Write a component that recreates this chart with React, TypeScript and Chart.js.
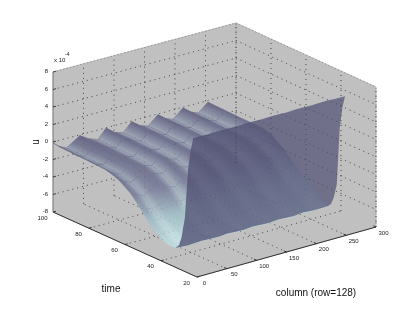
import React, { useEffect, useRef } from "react";
import { Chart, registerables } from "chart.js";

Chart.register(...registerables);

const columnTicks = [0, 50, 100, 150, 200, 250, 300];
const timeTicks = [100, 80, 60, 40, 20];
const uTicks = [8, 6, 4, 2, 0, -2, -4, -6, -8];

const columns = [0, 10, 22, 33, 44, 59, 74, 87, 101, 115, 129, 143, 156, 172, 185, 197, 213, 226, 238, 254];
const times = [100, 90, 80, 70, 64, 57, 52, 48, 43, 39, 36, 32, 30, 28.5, 26.7, 25, 23.5, 22];

const u100 = [-0.1, -0.7, -1.1, -0.6, -0.1, -0.75, -1.1, -0.05, -0.8, -1.1, -0.1, -0.8, -1.1, -0.1, -0.8, -1.1, -0.1, -0.8, -1.15, -0.2];
const u90 = [-0.2, -0.8, -1.15, -0.7, -0.2, -0.8, -1.15, -0.2, -0.85, -1.15, -0.2, -0.85, -1.15, -0.2, -0.85, -1.15, -0.2, -0.85, -1.15, -0.25];
const u80 = [-0.3, -0.85, -1.2, -0.75, -0.3, -0.9, -1.2, -0.3, -0.95, -1.2, -0.3, -0.95, -1.2, -0.3, -0.95, -1.2, -0.3, -0.95, -1.2, -0.3];
const u70 = [-0.5, -1.0, -1.35, -0.9, -0.5, -1.05, -1.35, -0.5, -1.1, -1.35, -0.5, -1.1, -1.35, -0.45, -1.05, -1.3, -0.4, -1.0, -1.25, -0.3];
const u64 = [-0.9, -1.4, -1.7, -1.3, -0.9, -1.4, -1.7, -0.9, -1.45, -1.7, -0.9, -1.45, -1.7, -0.85, -1.4, -1.65, -0.8, -1.3, -1.5, -0.6];
const u57 = [-1.85, -2.25, -2.55, -2.2, -1.85, -2.3, -2.55, -1.85, -2.35, -2.55, -1.8, -2.3, -2.5, -1.75, -2.25, -2.45, -1.7, -2.15, -2.3, -1.6];
const u52 = [-3, -3.35, -3.6, -3.3, -3, -3.4, -3.6, -3, -3.4, -3.6, -2.95, -3.35, -3.55, -2.9, -3.3, -3.5, -2.85, -3.2, -3.35, -2.6];
const u48 = [-4, -4.3, -4.5, -4.25, -4, -4.3, -4.5, -4, -4.35, -4.5, -3.95, -4.25, -4.4, -3.85, -4.2, -4.35, -3.75, -4.05, -4.2, -3.3];
const u43 = [-5, -5.2, -5.35, -5.2, -5, -5.2, -5.35, -5, -5.25, -5.35, -4.95, -5.2, -5.3, -4.85, -5.1, -5.2, -4.75, -4.95, -5.05, -4.2];
const u39 = [-5.55, -5.7, -5.8, -5.7, -5.55, -5.7, -5.8, -5.55, -5.7, -5.8, -5.5, -5.65, -5.75, -5.45, -5.6, -5.7, -5.35, -5.5, -5.55, -5.0];
const u36 = [-5.8, -5.85, -5.9, -5.85, -5.8, -5.85, -5.9, -5.8, -5.85, -5.9, -5.8, -5.85, -5.9, -5.75, -5.8, -5.85, -5.7, -5.75, -5.8, -5.55];
const u32 = [-5.8, -5.85, -5.9, -5.85, -5.8, -5.87, -5.9, -5.8, -5.87, -5.9, -5.8, -5.87, -5.9, -5.8, -5.87, -5.9, -5.8, -5.87, -5.9, -5.85];
const u30 = [-5.3, -5.4, -5.55, -5.4, -5.3, -5.45, -5.55, -5.3, -5.45, -5.55, -5.3, -5.45, -5.55, -5.3, -5.45, -5.55, -5.3, -5.45, -5.55, -5.4];
const u28 = [-4.2, -4.4, -4.6, -4.4, -4.2, -4.4, -4.6, -4.2, -4.4, -4.6, -4.2, -4.4, -4.6, -4.2, -4.4, -4.6, -4.3, -4.45, -4.6, -4.6];
const u27 = [-1.8, -2.1, -2.4, -2.1, -1.9, -2.2, -2.5, -2, -2.3, -2.5, -2.1, -2.4, -2.6, -2.2, -2.5, -2.7, -2.4, -2.6, -2.8, -2.9];
const u25 = [3.8, 3.5, 3.3, 3.5, 3.7, 3.5, 3.3, 3.7, 3.5, 3.3, 3.7, 3.5, 3.3, 3.7, 3.5, 3.3, 3.7, 3.5, 3.3, 3.8];
const u23 = [6.2, 6.1, 6, 6.1, 6.2, 6.1, 6, 6.2, 6.1, 6, 6.2, 6.1, 6, 6.2, 6.1, 6, 6.2, 6.1, 6, 6.2];
const u22 = [7.7, 7.7, 7.65, 7.7, 7.7, 7.7, 7.65, 7.7, 7.7, 7.65, 7.7, 7.7, 7.65, 7.7, 7.7, 7.65, 7.7, 7.7, 7.65, 7.65];
const surface = [u100, u90, u80, u70, u64, u57, u52, u48, u43, u39, u36, u32, u30, u28, u27, u25, u23, u22];

// Shade at each time row of the rear flank, and the extra light along each column's crease
const rowShade = [0, 0.03, 0.07, 0.12, 0.17, 0.28, 0.45, 0.6, 0.72, 0.8, 0.84, 0.84];
const columnLight = [0, 0.08, 0.42, 0.12, 0, 0.05, 0.45, 0, 0.05, 0.45, 0, 0.05, 0.45, 0, 0.05, 0.45, 0, 0.05, 0.45, 0];

// Projection of the box onto the page
const cornerA = [53, 212];
const cornerB = [197, 277];
const cornerC = [376, 227];
const cornerD = [236, 163];
const uPixels = 8.75;

type Pt = { x: number; y: number };

function project(c: number, t: number, u: number): Pt {
  const a = c / 300;
  const b = (100 - t) / 80;
  const mix = (i: number) =>
    (1 - a) * (1 - b) * cornerA[i] + a * (1 - b) * cornerD[i] + (1 - a) * b * cornerB[i] + a * b * cornerC[i];
  return { x: mix(0), y: mix(1) - (u + 8) * uPixels };
}

function shadeColor(s: number) {
  const stops: [number, number[]][] = [
    [0, [104, 104, 134]],
    [0.3, [124, 128, 154]],
    [0.6, [160, 186, 196]],
    [1, [208, 240, 237]],
  ];
  const v = Math.max(0, Math.min(1, s));
  for (let i = 1; i < stops.length; i++) {
    if (v <= stops[i][0]) {
      const k = (v - stops[i - 1][0]) / (stops[i][0] - stops[i - 1][0]);
      const p = stops[i - 1][1];
      const q = stops[i][1];
      return `rgb(${p.map((n, j) => Math.round(n + (q[j] - n) * k)).join(",")})`;
    }
  }
  return "rgb(208,240,237)";
}

const wallGrey = "#c0c0c0";
const gridDash = [1, 4];

function polygon(points: Pt[], color: any, border: any = "transparent", width = 0) {
  return {
    data: points,
    showLine: true,
    fill: "shape",
    backgroundColor: color,
    borderColor: border,
    borderWidth: width,
    pointRadius: 0,
    tension: 0,
  };
}

function line(points: Pt[], color: string, width = 1, dash: number[] = []) {
  return {
    data: points,
    showLine: true,
    fill: false,
    borderColor: color,
    borderWidth: width,
    borderDash: dash,
    pointRadius: 0,
    tension: 0,
  };
}

// A gradient running from edge (a1,a2) to edge (b1,b2), square to those edges' own direction
function edgeGradient(ctx: CanvasRenderingContext2D, a1: Pt, a2: Pt, b1: Pt, b2: Pt) {
  const lx = (a1.x + a2.x) / 2;
  const ly = (a1.y + a2.y) / 2;
  const rx = (b1.x + b2.x) / 2;
  const ry = (b1.y + b2.y) / 2;
  const nx = -(a2.y - a1.y + b2.y - b1.y);
  const ny = a2.x - a1.x + b2.x - b1.x;
  const k = ((rx - lx) * nx + (ry - ly) * ny) / (nx * nx + ny * ny);
  return ctx.createLinearGradient(lx, ly, lx + nx * k, ly + ny * k);
}

function gridLines(color: string) {
  const out: any[] = [];
  const innerU = uTicks.slice(1, -1);
  const innerC = columnTicks.slice(1);
  const innerT = timeTicks.slice(1);
  innerC.forEach((c) => out.push(line([project(c, 100, -8), project(c, 100, 8)], color, 1, gridDash)));
  innerT.forEach((t) => out.push(line([project(300, t, -8), project(300, t, 8)], color, 1, gridDash)));
  innerU.forEach((u) => {
    out.push(line([project(0, 100, u), project(300, 100, u)], color, 1, gridDash));
    out.push(line([project(300, 100, u), project(300, 20, u)], color, 1, gridDash));
  });
  columnTicks.slice(1, -1).forEach((c) => out.push(line([project(c, 20, -8), project(c, 100, -8)], color, 1, gridDash)));
  timeTicks.slice(1, -1).forEach((t) => out.push(line([project(0, t, -8), project(300, t, -8)], color, 1, gridDash)));
  return out;
}

function buildDatasets(ctx: CanvasRenderingContext2D) {
  const ds: any[] = [];
  ds.push(polygon([project(0, 100, -8), project(300, 100, -8), project(300, 100, 8), project(0, 100, 8)], wallGrey, wallGrey, 1));
  ds.push(polygon([project(300, 100, -8), project(300, 20, -8), project(300, 20, 8), project(300, 100, 8)], wallGrey, wallGrey, 1));
  ds.push(polygon([project(0, 100, -8), project(0, 20, -8), project(300, 20, -8), project(300, 100, -8)], wallGrey, wallGrey, 1));
  ds.push(...gridLines("rgba(0,0,0,0.55)"));

  const flankRows = times.indexOf(32);
  for (let i = 0; i < flankRows; i++) {
    for (let j = columns.length - 2; j >= 0; j--) {
      const p00 = project(columns[j], times[i], surface[i][j]);
      const p01 = project(columns[j + 1], times[i], surface[i][j + 1]);
      const p11 = project(columns[j + 1], times[i + 1], surface[i + 1][j + 1]);
      const p10 = project(columns[j], times[i + 1], surface[i + 1][j]);
      const rowFill = edgeGradient(ctx, p00, p01, p10, p11);
      rowFill.addColorStop(0, shadeColor(rowShade[i]));
      rowFill.addColorStop(1, shadeColor(rowShade[i + 1]));
      ds.push(polygon([p00, p01, p11, p10], rowFill, rowFill, 0.8));
      const stripe = edgeGradient(ctx, p00, p10, p01, p11);
      stripe.addColorStop(0, `rgba(226,246,242,${columnLight[j]})`);
      stripe.addColorStop(1, `rgba(226,246,242,${columnLight[j + 1]})`);
      ds.push(polygon([p00, p01, p11, p10], stripe));
    }
  }

  const last = times.length - 1;
  const panel: Pt[] = [];
  columns.forEach((c, j) => panel.push(project(c, times[last], surface[last][j])));
  for (let i = last - 1; i >= flankRows; i--) panel.push(project(columns[columns.length - 1], times[i], surface[i][columns.length - 1]));
  for (let j = columns.length - 2; j >= 0; j--) panel.push(project(columns[j], times[flankRows], surface[flankRows][j]));
  for (let i = flankRows + 1; i < last; i++) panel.push(project(columns[0], times[i], surface[i][0]));
  const gradient = ctx.createLinearGradient(175, 0, 345, 0);
  gradient.addColorStop(0, "rgba(82,82,116,0.8)");
  gradient.addColorStop(1, "rgba(86,86,120,0.75)");
  ds.push(polygon(panel, gradient));

  ds.push(...gridLines("rgba(0,0,0,0.13)"));

  ds.push(line([project(0, 100, -8), project(0, 100, 8)], "#808080", 1.2));
  ds.push(line([project(0, 100, -8), project(0, 20, -8)], "#303030", 1));
  ds.push(line([project(0, 20, -8), project(300, 20, -8)], "#303030", 1));
  ds.push(line([project(0, 100, 8), project(300, 100, 8)], "rgba(90,90,90,0.5)", 1, [1.5, 2]));
  ds.push(line([project(300, 100, 8), project(300, 20, 8)], "rgba(90,90,90,0.5)", 1, [1.5, 2]));
  ds.push(line([project(300, 100, -8), project(300, 100, 8)], "rgba(60,60,60,0.5)", 1, [1.2, 2]));
  ds.push(line([project(300, 20, -8), project(300, 20, 8)], "rgba(60,60,60,0.5)", 1, [1.2, 2]));

  uTicks.forEach((u) => {
    const p = project(0, 100, u);
    ds.push(line([p, { x: p.x + 3, y: p.y - 0.8 }], "#404040", 1));
  });
  timeTicks.slice(1).forEach((t) => {
    const p = project(0, t, -8);
    ds.push(line([p, { x: p.x + 2.6, y: p.y - 0.7 }], "#303030", 1));
  });
  columnTicks.slice(1).forEach((c) => {
    const p = project(c, 20, -8);
    ds.push(line([p, { x: p.x - 2.6, y: p.y - 1.2 }], "#303030", 1));
  });
  return ds.reverse();
}

const labelPlugin = {
  id: "boxLabels",
  afterDraw(chart: any) {
    const c = chart.ctx as CanvasRenderingContext2D;
    c.save();
    c.fillStyle = "#222";
    c.textBaseline = "middle";
    c.textAlign = "center";
    c.font = "6px 'Liberation Sans'";
    uTicks.forEach((u) => {
      const p = project(0, 100, u);
      c.textAlign = "right";
      c.fillText(String(u), p.x - 5, p.y - 0.5);
    });
    c.textAlign = "center";
    timeTicks.forEach((t) => {
      const p = project(0, t, -8);
      c.fillText(String(t), p.x - 10.5, p.y + 6);
    });
    columnTicks.forEach((v) => {
      const p = project(v, 20, -8);
      c.fillText(String(v), p.x + 7.5, p.y + 6);
    });
    c.textAlign = "left";
    c.fillText("x 10", 54, 60);
    c.font = "5px 'Liberation Sans'";
    c.fillText("-4", 65, 55);
    c.textAlign = "center";
    c.font = "10px 'Liberation Sans'";
    c.fillStyle = "#111";
    c.fillText("time", 111, 289);
    c.fillText("column (row=128)", 316, 293);
    c.translate(36, 142);
    c.rotate(-Math.PI / 2);
    c.fillText("u", 0, 0);
    c.restore();
  },
};

export default function App() {
  const ref = useRef<HTMLCanvasElement>(null);
  useEffect(() => {
    const canvas = ref.current!;
    const ctx = canvas.getContext("2d")!;
    const chart = new Chart(ctx, {
      type: "scatter",
      data: { datasets: buildDatasets(ctx) },
      options: {
        animation: false,
        responsive: false,
        layout: { padding: 0 },
        clip: false,
        plugins: { legend: { display: false }, tooltip: { enabled: false }, title: { display: false } },
        events: [],
        scales: {
          x: { type: "linear", min: 0, max: 415, display: false },
          y: { type: "linear", min: 0, max: 312, reverse: true, display: false },
        },
      } as any,
      plugins: [labelPlugin],
    } as any);
    return () => chart.destroy();
  }, []);
  return (
    <div style={{ position: "absolute", left: 0, top: 0, width: 415, height: 312, background: "#fff", overflow: "hidden" }}>
      <canvas ref={ref} width={415} height={312} style={{ display: "block", width: 415, height: 312, filter: "blur(0.5px)" }} />
    </div>
  );
}
